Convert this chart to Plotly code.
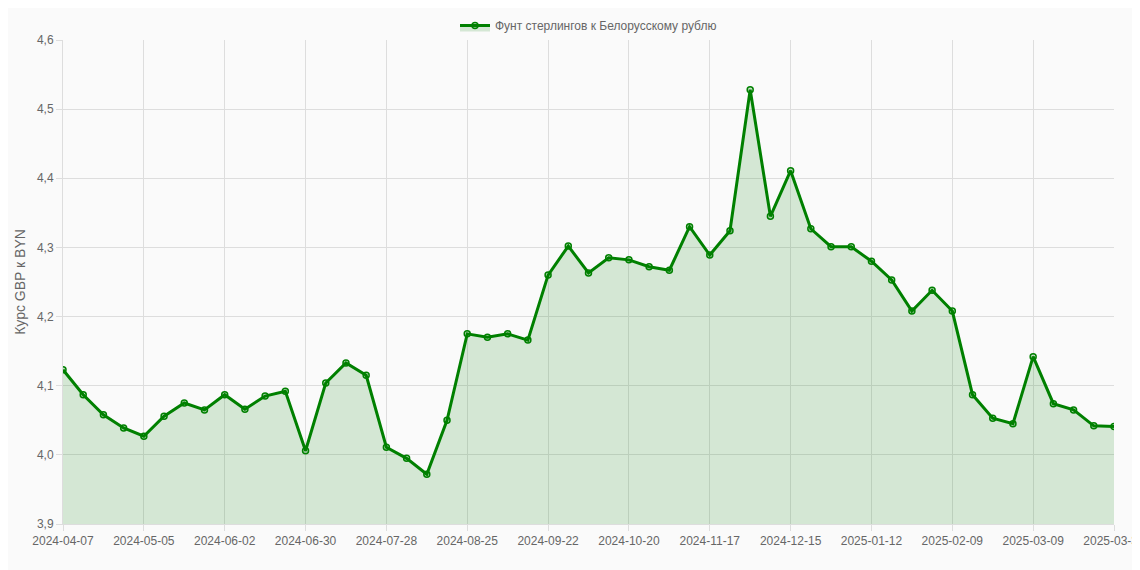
import plotly.graph_objects as go
import datetime as dt

start = dt.date(2024, 4, 7)
dates = [(start + dt.timedelta(weeks=i)).isoformat() for i in range(52)] + ["2025-03-31"]
values = [4.123, 4.087, 4.058, 4.039, 4.027, 4.056, 4.075, 4.065, 4.087, 4.066,
          4.085, 4.092, 4.006, 4.104, 4.133, 4.115, 4.011, 3.995, 3.972, 4.050,
          4.175, 4.170, 4.175, 4.166, 4.260, 4.302, 4.263, 4.285, 4.282, 4.272,
          4.267, 4.330, 4.289, 4.324, 4.528, 4.345, 4.411, 4.327, 4.301, 4.301,
          4.280, 4.253, 4.208, 4.238, 4.208, 4.087, 4.053, 4.045, 4.142, 4.074,
          4.065, 4.042, 4.041]
tick_labels = dates[::4] + [dates[-1]]
y_ticks = [3.9, 4.0, 4.1, 4.2, 4.3, 4.4, 4.5, 4.6]

fig = go.Figure(go.Scatter(
    x=dates, y=values, mode="lines+markers", name="Фунт стерлингов к Белорусскому рублю",
    line=dict(color="#008000", width=3),
    marker=dict(size=6, color="rgba(0,128,0,0.2)", line=dict(color="#008000", width=1.5)),
    fill="tozeroy", fillcolor="rgba(0,128,0,0.15)"))
fig.update_layout(
    width=1140, height=570, paper_bgcolor="#fafafa", plot_bgcolor="#fafafa",
    margin=dict(l=55, r=34, t=32, b=54, autoexpand=False), separators=",.",
    font=dict(family="Liberation Sans, Arial", size=12, color="#666"),
    showlegend=True,
    legend=dict(orientation="h", x=0.5, xanchor="center", y=1.0, yanchor="bottom",
                font=dict(size=12, color="#666")),
)
fig.update_xaxes(type="category", tickmode="array", tickvals=tick_labels, ticktext=tick_labels,
                 showgrid=True, gridcolor="#ddd", tickangle=0, ticks="outside", ticklen=6,
                 tickcolor="#ddd", showline=True, linecolor="#ddd", range=[0, len(dates) - 1],
                 automargin=False)
fig.update_yaxes(range=[3.9, 4.6], tickvals=y_ticks, tickformat=".1f", showgrid=True,
                 gridcolor="#ddd", ticks="outside", ticklen=6, tickcolor="#ddd",
                 showline=True, linecolor="#ddd", zeroline=False, automargin=False,
                 title=dict(text="Курс GBP к BYN", font=dict(size=14, color="#666"), standoff=8))
fig.write_html("out.html")
